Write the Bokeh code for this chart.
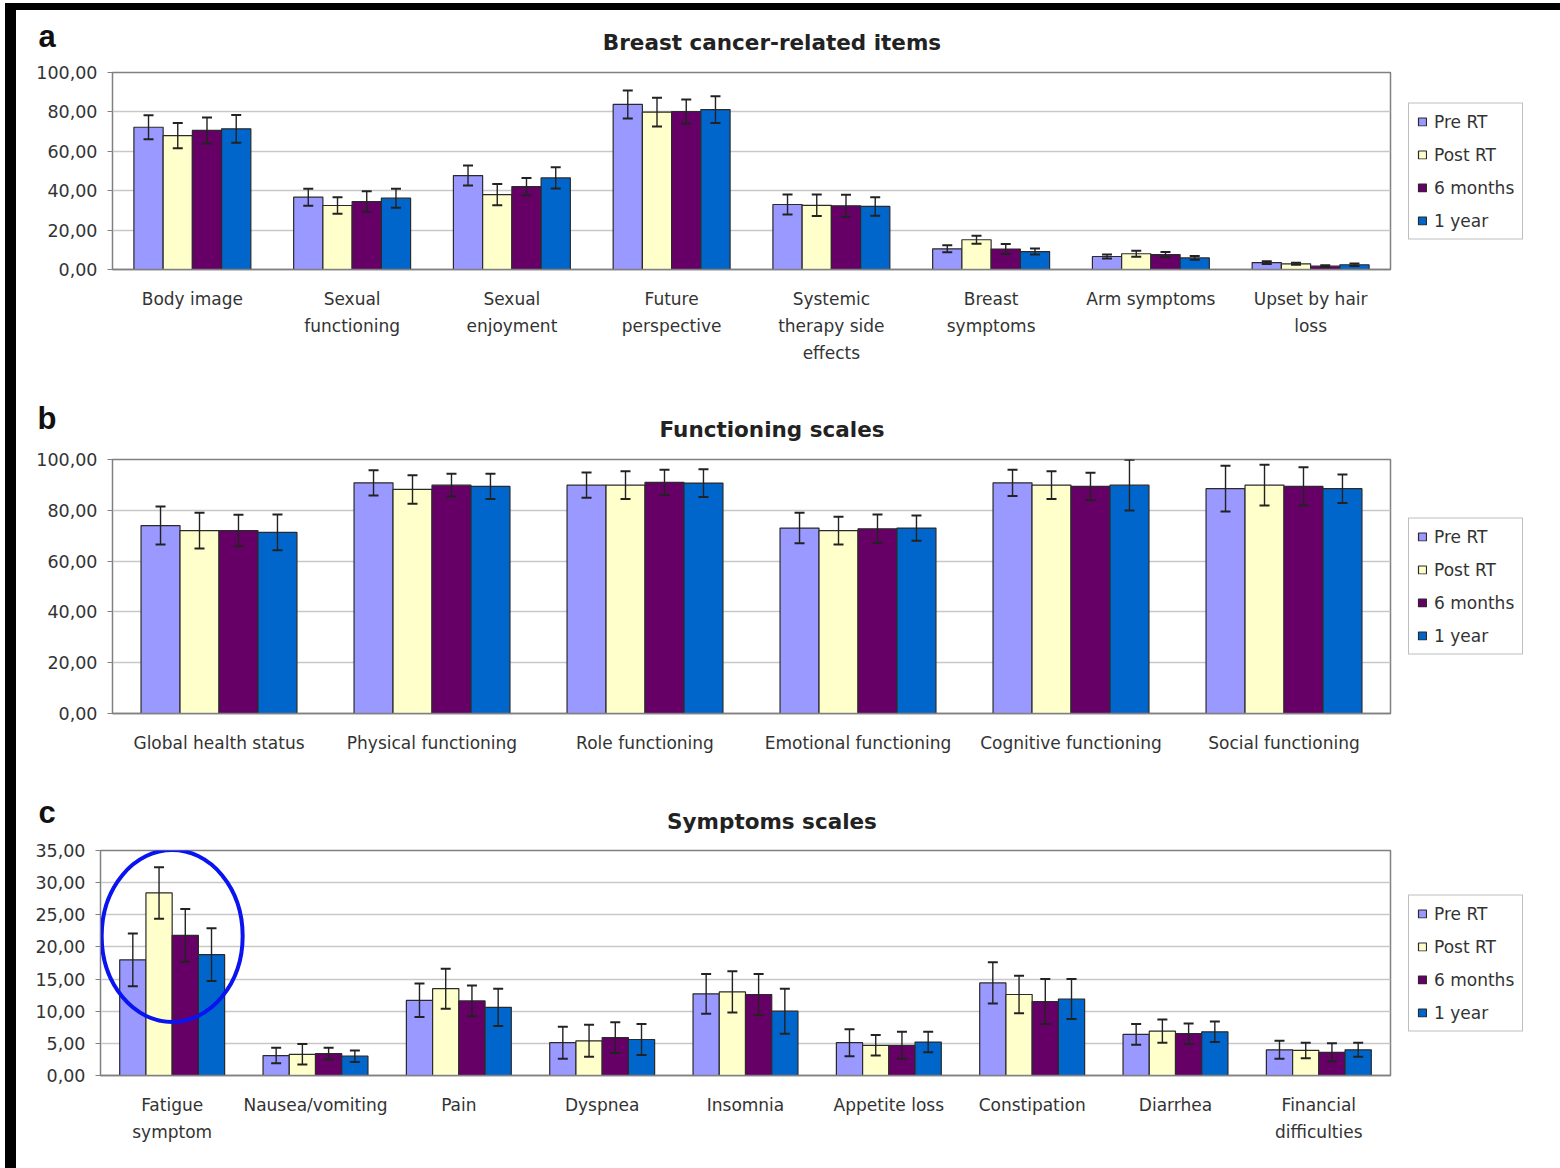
from bokeh.plotting import figure
from bokeh.models import (ColumnDataSource, Whisker, TeeHead, Legend, LegendItem,
                          FixedTicker, Range1d, FactorRange, Div)
from bokeh.transform import dodge
from bokeh.layouts import column
from bokeh.embed import file_html
from bokeh.resources import INLINE

# ---------------- data ----------------
series_names = ["Pre RT", "Post RT", "6 months", "1 year"]
series_colors = ["#9999ff", "#ffffcc", "#660066", "#0066cc"]

# Panel a: Breast cancer-related items
cats_a = ["Body image", "Sexual\nfunctioning", "Sexual\nenjoyment", "Future\nperspective",
          "Systemic\ntherapy side\neffects", "Breast\nsymptoms", "Arm symptoms", "Upset by hair\nloss"]
pre_a = [72.2, 36.7, 47.7, 83.8, 33.0, 10.5, 6.6, 3.5]
post_a = [68.0, 32.5, 38.0, 79.9, 32.6, 15.1, 8.0, 2.9]
m6_a = [70.6, 34.5, 42.1, 80.2, 32.3, 10.4, 7.6, 1.7]
y1_a = [71.4, 36.2, 46.5, 81.2, 32.0, 9.1, 5.9, 2.4]
pre_a_err = [6.1, 4.3, 5.1, 7.1, 5.1, 1.8, 1.0, 0.7]
post_a_err = [6.4, 4.2, 5.4, 7.3, 5.5, 2.0, 1.5, 0.5]
m6_a_err = [6.6, 5.2, 4.4, 6.1, 5.7, 2.5, 1.3, 0.4]
y1_a_err = [7.0, 4.8, 5.4, 6.8, 4.7, 1.5, 1.0, 0.6]
ticks_a = [0, 20, 40, 60, 80, 100]
tick_labels_a = ["0,00", "20,00", "40,00", "60,00", "80,00", "100,00"]

# Panel b: Functioning scales
cats_b = ["Global health status", "Physical functioning", "Role functioning",
          "Emotional functioning", "Cognitive functioning", "Social functioning"]
pre_b = [74.0, 90.8, 89.9, 73.0, 90.8, 88.5]
post_b = [72.0, 88.2, 89.9, 72.0, 89.9, 89.9]
m6_b = [72.0, 89.9, 91.0, 72.7, 89.4, 89.4]
y1_b = [71.3, 89.4, 90.7, 73.0, 89.9, 88.5]
pre_b_err = [7.5, 5.0, 5.0, 6.0, 5.2, 9.0]
post_b_err = [7.0, 5.6, 5.5, 5.5, 5.5, 8.0]
m6_b_err = [6.2, 4.5, 5.0, 5.6, 5.4, 7.5]
y1_b_err = [7.0, 5.0, 5.5, 5.0, 10.0, 5.6]
ticks_b = [0, 20, 40, 60, 80, 100]
tick_labels_b = ["0,00", "20,00", "40,00", "60,00", "80,00", "100,00"]

# Panel c: Symptoms scales
cats_c = ["Fatigue\nsymptom", "Nausea/vomiting", "Pain", "Dyspnea", "Insomnia",
          "Appetite loss", "Constipation", "Diarrhea", "Financial\ndifficulties"]
pre_c = [18.0, 3.1, 11.7, 5.1, 12.7, 5.1, 14.4, 6.4, 4.0]
post_c = [28.4, 3.3, 13.5, 5.4, 13.0, 4.7, 12.6, 6.9, 3.9]
m6_c = [21.8, 3.4, 11.6, 5.9, 12.6, 4.7, 11.5, 6.5, 3.6]
y1_c = [18.8, 3.0, 10.6, 5.6, 10.0, 5.2, 11.9, 6.8, 4.0]
pre_c_err = [4.1, 1.2, 2.6, 2.5, 3.1, 2.1, 3.2, 1.6, 1.4]
post_c_err = [4.0, 1.6, 3.1, 2.5, 3.2, 1.6, 2.9, 1.8, 1.2]
m6_c_err = [4.1, 0.9, 2.4, 2.4, 3.2, 2.1, 3.5, 1.6, 1.4]
y1_c_err = [4.1, 0.9, 2.9, 2.4, 3.5, 1.6, 3.1, 1.6, 1.1]
ticks_c = [0, 5, 10, 15, 20, 25, 30, 35]
tick_labels_c = ["0,00", "5,00", "10,00", "15,00", "20,00", "25,00", "30,00", "35,00"]

FONT = "DejaVu Sans"
TXT = "#333333"
BAR_W = 0.183
OFFSETS = [-0.2745, -0.0915, 0.0915, 0.2745]
X0 = 16          # page x of the inner area (margin + black border)
INNER_W = 1560 - X0


def header(letter, title, top, bottom, letter_xy, title_xy):
    h = bottom - top
    lx, ly = letter_xy
    tx, ty = title_xy
    html = (
        f'<div style="position:relative;width:{INNER_W}px;height:{h}px;">'
        f'<span style="position:absolute;left:{lx - X0}px;top:{ly - top}px;'
        f'transform:translate(-50%,-50%);font-family:\'Liberation Sans\';font-weight:bold;'
        f'font-size:31px;line-height:1;color:#111;white-space:nowrap;">{letter}</span>'
        f'<span style="position:absolute;left:{tx - X0}px;top:{ty - top}px;'
        f'transform:translate(-50%,-50%);font-family:\'DejaVu Sans\';font-weight:bold;'
        f'font-size:21.5px;line-height:1;color:#222;white-space:nowrap;">{title}</span>'
        f'</div>'
    )
    return Div(text=html, width=INNER_W, height=h, margin=0)


def make_panel(cats, vals, errs, ymax, ticks, tick_labels,
               fig_top, fig_bottom, frame_l, frame_r, frame_t, frame_b):
    fw = frame_r - frame_l
    fh = frame_b - frame_t
    left = frame_l - X0
    top = frame_t - fig_top
    bottom = fig_bottom - frame_b
    p = figure(x_range=FactorRange(*cats), y_range=Range1d(0, ymax),
               frame_width=fw, frame_height=fh,
               min_border_left=left, min_border_right=0,
               min_border_top=top, min_border_bottom=bottom,
               output_backend="svg", toolbar_location=None,
               background_fill_color="white", border_fill_color="white")
    p.outline_line_color = "#808080"
    p.outline_line_width = 1.5
    p.xgrid.grid_line_color = None
    p.ygrid.grid_line_color = "#c8c8c8"
    p.ygrid.grid_line_width = 1.5
    p.yaxis.ticker = FixedTicker(ticks=ticks)
    p.yaxis.major_label_overrides = {t: l for t, l in zip(ticks, tick_labels)}
    p.yaxis.minor_tick_line_color = None
    p.yaxis.major_tick_out = 5
    p.yaxis.major_tick_in = 0
    p.yaxis.axis_line_color = "#808080"
    p.yaxis.major_tick_line_color = "#808080"
    p.yaxis.major_label_text_font = FONT
    p.yaxis.major_label_text_font_size = "17.5px"
    p.yaxis.major_label_text_color = TXT
    p.yaxis.major_label_standoff = 10
    p.xaxis.axis_line_color = "#808080"
    p.xaxis.axis_line_width = 1.5
    p.xaxis.major_tick_line_color = None
    p.xaxis.major_label_text_font = FONT
    p.xaxis.major_label_text_font_size = "17px"
    p.xaxis.major_label_text_color = TXT
    p.xaxis.major_label_text_line_height = 1.37
    p.xaxis.major_label_standoff = 13
    p.xaxis.major_label_orientation = "horizontal"

    items = []
    for name, color, off, v, e in zip(series_names, series_colors, OFFSETS, vals, errs):
        src = ColumnDataSource(dict(cat=cats, v=v,
                                    lo=[a - b for a, b in zip(v, e)],
                                    hi=[a + b for a, b in zip(v, e)]))
        r = p.vbar(x=dodge("cat", off, range=p.x_range), top="v", width=BAR_W, source=src,
                   fill_color=color, line_color="#2a2a2a", line_width=1.2)
        w = Whisker(base=dodge("cat", off, range=p.x_range), lower="lo", upper="hi", source=src,
                    line_color="#222222", line_width=1.4, level="overlay",
                    upper_head=TeeHead(size=10, line_color="#222222", line_width=2),
                    lower_head=TeeHead(size=10, line_color="#222222", line_width=2))
        p.add_layout(w)
        items.append(LegendItem(label=name, renderers=[r]))

    leg = Legend(items=items, location="center_left", orientation="vertical",
                 label_text_font=FONT, label_text_font_size="17px", label_text_color=TXT,
                 glyph_width=10, glyph_height=10, label_height=20, spacing=13,
                 padding=8, margin=18, label_standoff=7,
                 border_line_color="#808080", border_line_width=1.5,
                 background_fill_color="white")
    p.add_layout(leg, "right")
    return p


ha = header("a", "Breast cancer-related items", 10, 62, (47, 36), (772, 43))
pa = make_panel(cats_a, [pre_a, post_a, m6_a, y1_a], [pre_a_err, post_a_err, m6_a_err, y1_a_err],
                100, ticks_a, tick_labels_a,
                fig_top=62, fig_bottom=395, frame_l=112, frame_r=1390, frame_t=72, frame_b=269)
hb = header("b", "Functioning scales", 395, 449, (47, 418), (772, 430))
pb = make_panel(cats_b, [pre_b, post_b, m6_b, y1_b], [pre_b_err, post_b_err, m6_b_err, y1_b_err],
                100, ticks_b, tick_labels_b,
                fig_top=449, fig_bottom=785, frame_l=112, frame_r=1390, frame_t=459, frame_b=713)
hc = header("c", "Symptoms scales", 785, 840, (47, 812), (772, 822))
pc = make_panel(cats_c, [pre_c, post_c, m6_c, y1_c], [pre_c_err, post_c_err, m6_c_err, y1_c_err],
                35, ticks_c, tick_labels_c,
                fig_top=840, fig_bottom=1168, frame_l=100, frame_r=1390, frame_t=850, frame_b=1075)

# highlight ellipse around the fatigue group
pc.ellipse(x=[cats_c[0]], y=[21.7], width=141, height=172, width_units="screen",
           height_units="screen", fill_color=None, line_color="#0a14f0", line_width=4)

layout = column(ha, column(pa), hb, column(pb), hc, column(pc), margin=(3, 0, 0, 5), spacing=0,
                styles={"border-top": "7px solid black", "border-left": "11px solid black",
                        "background-color": "white"})

open("out.html", "w").write(file_html(layout, INLINE))
